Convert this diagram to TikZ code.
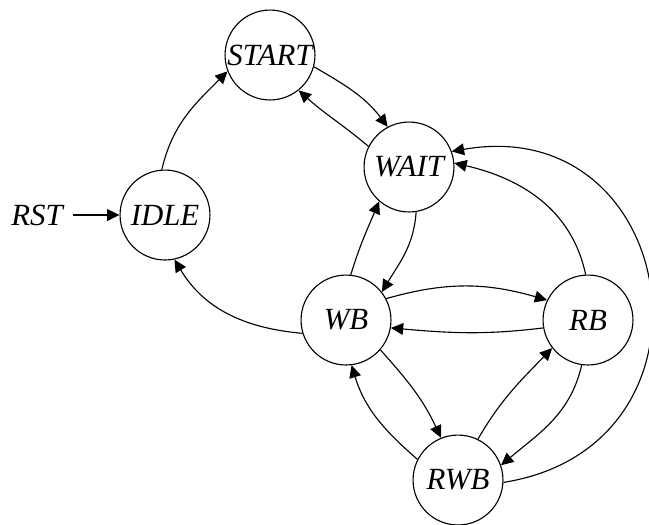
\documentclass[tikz,border=0pt]{standalone}
\usepackage{fontspec}
\setmainfont{Liberation Serif}
\usepackage{tikz}
\usetikzlibrary{arrows.meta}

\begin{document}
\begin{tikzpicture}[x=0.357pt,y=-0.357pt,->,>={Triangle[length=4.4pt,width=4.2pt]},
  line width=0.4pt,font=\fontsize{11}{13}\selectfont\itshape,
  state/.style={circle,draw,inner sep=0pt,minimum size=32.1pt}]
  \useasboundingbox (0,0) rectangle (649,524);

  \node[state] (start) at (270,55) {START};
  \node[state] (wait) at (409,167) {WAIT};
  \node[state] (idle) at (165,215) {IDLE};
  \node[state] (wb) at (346,320) {WB};
  \node[state] (rb) at (588,320) {RB};
  \node[state] (rwb) at (458,480) {RWB};

  \node[inner sep=3.6pt] (rst) at (37,215) {RST};

  \path (rst) edge (idle)
    (idle.94) edge[out=77,in=225] (start.201);

  \path
    (start.345) edge[out=-30,in=127] (wait.118)
    (wait.153) edge[out=140,in=318] (start.309);

  \path
    (wb.84) edge[out=73,in=247] (wait.229)
    (wait.279) edge[out=266,in=59] (wb.38)
    (wb.197) edge[out=175,in=301] (idle.282);

  \path
    (wb.28) edge[out=16,in=164] (rb.154)
    (rb.190) edge[out=187,in=355] (wb.350)
    (wb.319) edge[out=-48,in=115] (rwb.112)
    (rwb.153) edge[out=139,in=287] (wb.277);

  \path
    (rwb.64) edge[out=60,in=226] (rb.218)
    (rb.262) edge[out=257,in=40] (rwb.19)
    (rb.93) edge[out=102,in=347] (wait.5)
    (rwb.357) edge[out=9,in=10,looseness=1.77] (wait.20);

\end{tikzpicture}
\end{document}
